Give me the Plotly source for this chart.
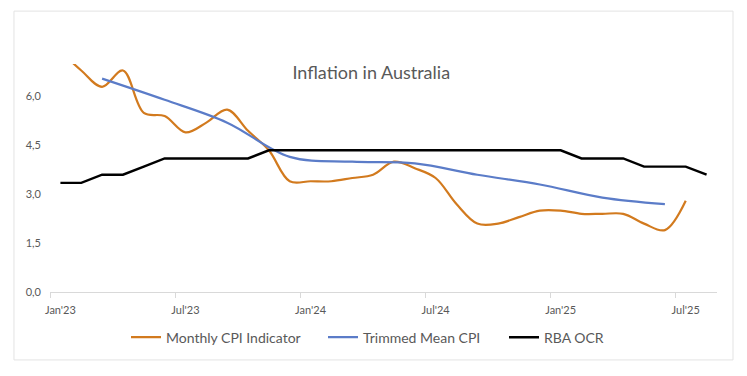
import plotly.graph_objects as go

months = ["Jan'23", "Feb'23", "Mar'23", "Apr'23", "May'23", "Jun'23", "Jul'23", "Aug'23",
          "Sep'23", "Oct'23", "Nov'23", "Dec'23", "Jan'24", "Feb'24", "Mar'24", "Apr'24",
          "May'24", "Jun'24", "Jul'24", "Aug'24", "Sep'24", "Oct'24", "Nov'24", "Dec'24",
          "Jan'25", "Feb'25", "Mar'25", "Apr'25", "May'25", "Jun'25", "Jul'25", "Aug'25"]

cpi_months = months[:31]
cpi_values = [7.4, 6.8, 6.3, 6.8, 5.5, 5.4, 4.9, 5.2, 5.6, 4.95, 4.35, 3.4, 3.4, 3.4, 3.5, 3.6,
              4.0, 3.8, 3.5, 2.7, 2.1, 2.1, 2.3, 2.5, 2.5, 2.4, 2.4, 2.4, 2.1, 1.9, 2.8]

trim_months = ["Mar'23", "Jun'23", "Sep'23", "Dec'23", "Mar'24", "Jun'24", "Sep'24", "Dec'24",
               "Mar'25", "Jun'25"]
trim_values = [6.55, 5.9, 5.2, 4.15, 4.0, 3.95, 3.6, 3.3, 2.9, 2.7]

ocr_months = months
ocr_values = [3.35, 3.35, 3.6, 3.6, 3.85, 4.1, 4.1, 4.1, 4.1, 4.1, 4.35, 4.35, 4.35, 4.35, 4.35,
              4.35, 4.35, 4.35, 4.35, 4.35, 4.35, 4.35, 4.35, 4.35, 4.35, 4.1, 4.1, 4.1, 3.85,
              3.85, 3.85, 3.6]

tick_labels = ["Jan'23", "Jul'23", "Jan'24", "Jul'24", "Jan'25", "Jul'25"]
y_ticks = [0, 1.5, 3.0, 4.5, 6.0]

idx = {m: i for i, m in enumerate(months)}

fig = go.Figure()
fig.add_trace(go.Scatter(x=[idx[m] for m in cpi_months], y=cpi_values, mode="lines",
                         name="Monthly CPI Indicator", legend="legend",
                         line=dict(color="#D27A1E", width=2.2, shape="spline", smoothing=1)))
fig.add_trace(go.Scatter(x=[idx[m] for m in trim_months], y=trim_values, mode="lines",
                         name="Trimmed Mean CPI", legend="legend2",
                         line=dict(color="#5B7CC8", width=2.2, shape="spline", smoothing=1)))
fig.add_trace(go.Scatter(x=[idx[m] for m in ocr_months], y=ocr_values, mode="lines",
                         name="RBA OCR", legend="legend3",
                         line=dict(color="#000000", width=2.4)))

L, R = 50, 717
def px(p):
    return (p - L) / (R - L)

leg_common = dict(orientation="h", xanchor="left", y=-0.2, yanchor="middle",
                  font=dict(size=14, color="#595959"), itemwidth=30,
                  bgcolor="rgba(0,0,0,0)")

tickvals = [idx[m] for m in tick_labels]
fig.update_layout(
    width=747, height=376,
    margin=dict(l=50, r=30, t=64, b=84),
    paper_bgcolor="white", plot_bgcolor="white",
    font=dict(family="Lato", color="#595959"),
    title=dict(text="Inflation in Australia", x=0.497, y=0.806, xanchor="center", yanchor="middle",
               font=dict(size=18, color="#595959", family="Lato")),
    separators=",.",
    showlegend=True,
    legend=dict(x=px(126), **leg_common),
    legend2=dict(x=px(323), **leg_common),
    legend3=dict(x=px(504), **leg_common),
    xaxis=dict(range=[-0.5, len(months) - 0.5], tickvals=tickvals, ticktext=tick_labels,
               ticks="", showgrid=False, zeroline=False, showline=True, linecolor="#D9D9D9",
               linewidth=1, tickfont=dict(size=11, color="#595959"), ticklabelstandoff=8,
               minor=dict(tickvals=[v - 0.5 for v in tickvals], ticks="outside", ticklen=5,
                          tickcolor="#D9D9D9", showgrid=False)),
    yaxis=dict(range=[0, 7], tickvals=y_ticks, tickformat=".1f", showgrid=False, zeroline=False,
               showline=False, tickfont=dict(size=11, color="#595959"), ticks="",
               ticklabelstandoff=8),
    shapes=[dict(type="rect", xref="paper", yref="paper", x0=-0.054, x1=1.024, y0=-0.298, y1=1.232,
                 line=dict(color="#E3E3E3", width=1), layer="below")],
)

fig.write_html("out.html", config={"displayModeBar": False},
               post_script="document.body.style.margin='0px';")
